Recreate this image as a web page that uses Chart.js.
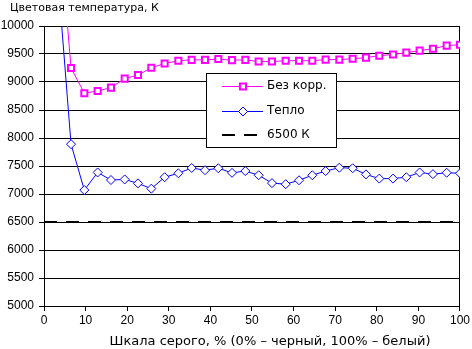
<!DOCTYPE html>
<html>
<head>
<meta charset="utf-8">
<script src="https://cdn.jsdelivr.net/npm/chart.js@4/dist/chart.umd.min.js"></script>
<style>
  html, body { margin: 0; padding: 0; background: #fff; }
</style>
</head>
<body>
<canvas id="chart" width="472" height="349"></canvas>
<script>
// grey levels, % (32 steps from black to white)
var grayLevels = [0, 3.2, 6.5, 9.7, 12.9, 16.1, 19.4, 22.6, 25.8, 29.0, 32.3, 35.5, 38.7, 41.9, 45.2, 48.4,
                  51.6, 54.8, 58.1, 61.3, 64.5, 67.7, 71.0, 74.2, 77.4, 80.6, 83.9, 87.1, 90.3, 93.5, 96.8, 100];

// colour temperature, K (first two points lie above the visible range)
var noCorrection = [15000, 12200, 9250, 8800, 8840, 8900, 9060, 9125, 9255, 9330, 9380, 9395, 9395, 9410, 9390, 9395,
                    9365, 9365, 9380, 9380, 9380, 9400, 9400, 9415, 9435, 9470, 9490, 9525, 9560, 9595, 9650, 9665];
var warmMode = [14000, 11000, 7890, 7070, 7385, 7250, 7260, 7190, 7095, 7300, 7370, 7465, 7425, 7460, 7378, 7410,
                7335, 7195, 7175, 7245, 7335, 7410, 7470, 7460, 7350, 7275, 7275, 7300, 7385, 7355, 7380, 7370];

var referenceX = [0, 100];
var referenceY = [6500, 6500];

var seriesLabels = ['Без корр.', 'Тепло', '6500 К'];
var yTitle = 'Цветовая температура, К';
var xTitle = 'Шкала серого, % (0% – черный, 100% – белый)';

var NUM_FONT = '"Liberation Sans", Arial, sans-serif';
var TEXT_FONT = '"DejaVu Sans", Verdana, sans-serif';

function toPoints(xs, ys) {
  return xs.map(function(x, i) { return { x: x, y: ys[i] }; });
}

// draws the boxed legend inside the plot and the two axis titles
var chartDecor = {
  id: 'chartDecor',
  afterDraw: function(chart) {
    var ctx = chart.ctx;
    ctx.save();
    ctx.fillStyle = '#000';
    ctx.textBaseline = 'alphabetic';
    ctx.textAlign = 'left';
    ctx.font = '11px ' + TEXT_FONT;
    ctx.fillText(yTitle, 10, 11);
    ctx.textAlign = 'center';
    ctx.font = '13px ' + TEXT_FONT;
    ctx.fillText(xTitle, 270, 345);

    // legend box
    var bx = 206.5, by = 73.5, bw = 130, bh = 74;
    ctx.fillStyle = '#fff';
    ctx.fillRect(bx, by, bw, bh);
    ctx.strokeStyle = '#000';
    ctx.lineWidth = 1;
    ctx.strokeRect(bx, by, bw, bh);

    chart.data.datasets.forEach(function(ds, i) {
      var y = 86 + i * 24.5;
      var ly = Math.round(y) + (ds.borderWidth % 2 ? 0.5 : 0);
      ctx.save();
      ctx.strokeStyle = ds.borderColor;
      ctx.lineWidth = ds.borderWidth;
      ctx.setLineDash(ds.borderDash || []);
      ctx.beginPath();
      ctx.moveTo(222, ly);
      ctx.lineTo(263, ly);
      ctx.stroke();
      ctx.restore();
      if (ds.pointRadius > 0) {
        ctx.save();
        ctx.strokeStyle = ds.pointBorderColor;
        ctx.fillStyle = ds.pointBackgroundColor;
        ctx.lineWidth = ds.pointBorderWidth;
        Chart.helpers.drawPoint(ctx, { pointStyle: ds.pointStyle, radius: ds.pointRadius, rotation: 0, borderWidth: ds.pointBorderWidth }, 243, Math.round(y) + 0.5);
        ctx.restore();
      }
      ctx.fillStyle = '#000';
      ctx.font = '12px ' + TEXT_FONT;
      ctx.textAlign = 'left';
      ctx.textBaseline = 'middle';
      ctx.fillText(ds.label, 267, y);
    });
    ctx.restore();
  }
};

new Chart(document.getElementById('chart'), {
  type: 'line',
  data: {
    datasets: [{
      label: seriesLabels[0],
      data: toPoints(grayLevels, noCorrection),
      borderColor: '#ff00ff',
      borderWidth: 1,
      pointStyle: 'rect',
      pointRadius: 4.3,
      pointBorderWidth: 2,
      pointBorderColor: '#ff00ff',
      pointBackgroundColor: '#ffffff',
      tension: 0
    }, {
      label: seriesLabels[1],
      data: toPoints(grayLevels, warmMode),
      borderColor: '#0000ff',
      borderWidth: 1,
      pointStyle: 'rectRot',
      pointRadius: 4.5,
      pointBorderWidth: 1,
      pointBorderColor: '#0000ff',
      pointBackgroundColor: '#ffffff',
      tension: 0
    }, {
      label: seriesLabels[2],
      data: toPoints(referenceX, referenceY),
      borderColor: '#000000',
      borderWidth: 2,
      borderDash: [13, 9],
      pointRadius: 0,
      tension: 0
    }]
  },
  options: {
    responsive: false,
    animation: false,
    layout: { padding: { top: 26, right: 10, left: 0, bottom: 0 } },
    plugins: {
      legend: { display: false },
      tooltip: { enabled: false },
      title: { display: false }
    },
    scales: {
      x: {
        type: 'linear',
        min: 0,
        max: 100,
        afterFit: function(scale) { scale.height = 43; },
        ticks: {
          stepSize: 10,
          autoSkip: false,
          maxRotation: 0,
          padding: 2,
          color: '#000',
          font: { family: NUM_FONT, size: 12 }
        },
        grid: {
          color: function(ctx) { return ctx.tick && ctx.tick.value === 100 ? '#000' : 'rgba(0,0,0,0)'; },
          tickColor: '#000',
          tickLength: 5,
          lineWidth: 1
        },
        border: { color: '#000', width: 1 }
      },
      y: {
        min: 5000,
        max: 10000,
        afterFit: function(scale) { scale.width = 44; },
        ticks: {
          stepSize: 500,
          padding: 5,
          color: '#000',
          font: { family: NUM_FONT, size: 12 },
          callback: function(value) { return String(value); }
        },
        grid: {
          color: '#000',
          tickColor: '#000',
          tickLength: 5,
          lineWidth: 1
        },
        border: { color: '#000', width: 1 }
      }
    }
  },
  plugins: [chartDecor]
});
</script>
</body>
</html>
